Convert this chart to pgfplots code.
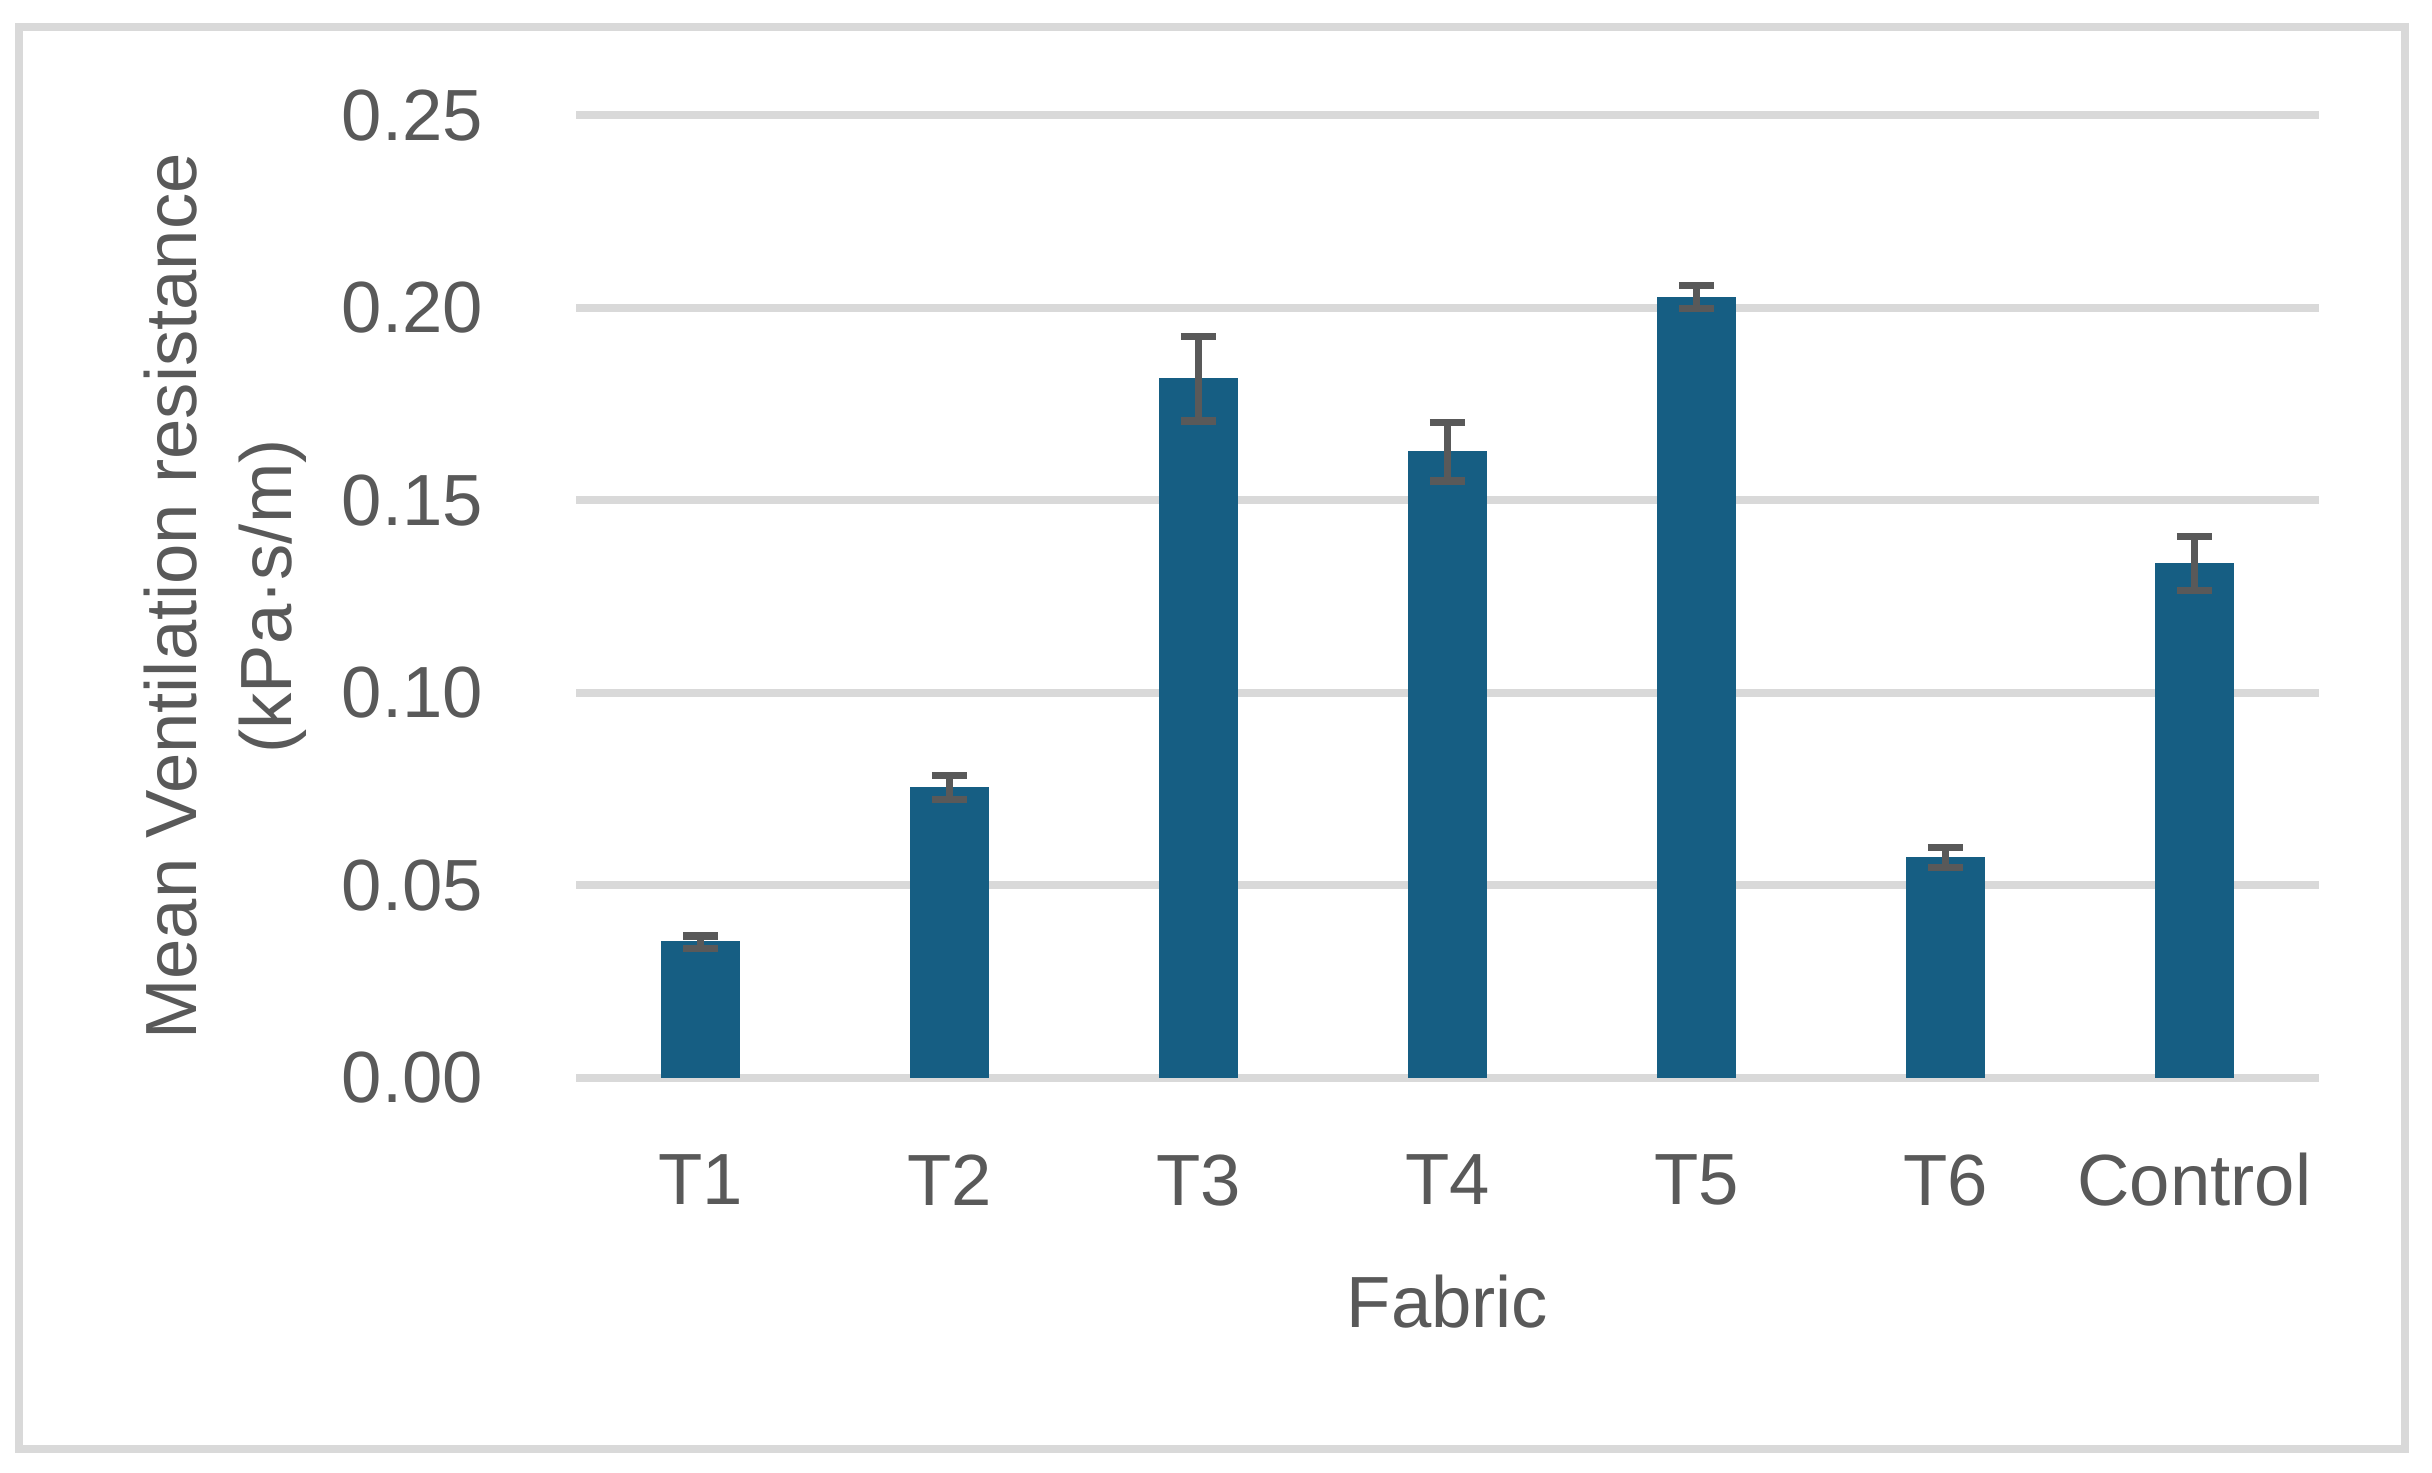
\documentclass[border=0pt]{standalone}
\usepackage{pgfplots}
\pgfplotsset{compat=1.18}
\usepackage{fontspec}
\setmainfont{Liberation Sans}
\definecolor{txtgray}{HTML}{595959}
\definecolor{gridgray}{HTML}{D9D9D9}
\definecolor{barblue}{HTML}{165E83}
\begin{document}
\begin{tikzpicture}
\fill[white] (0,0) rectangle (486.4pt,294.4pt);
\draw[gridgray, line width=1.6pt] (3.8pt,4.6pt) rectangle (481pt,289pt);
\begin{axis}[
  at={(115.2pt,78.86pt)}, anchor=south west,
  width=348.6pt, height=192.5pt, scale only axis,
  xmin=-0.5, xmax=6.5, ymin=0, ymax=0.25,
  ytick={0,0.05,0.10,0.15,0.20,0.25},
  xtick={0,1,2,3,4,5,6},
  xticklabels={T1,T2,T3,T4,T5,T6,Control},
  axis line style={draw=none},
  tick style={draw=none},
  ymajorgrids,
  major grid style={color=gridgray, line width=1.53pt},
  /pgf/number format/assume math mode=true,
  yticklabel style={/pgf/number format/.cd, fixed, fixed zerofill, precision=2, /tikz/.cd},
  ticklabel style={font=\fontsize{14.5}{17}\selectfont, text=txtgray},
  yticklabel style={anchor=east, inner sep=0pt, xshift=-18.4pt},
  xticklabel style={anchor=center, inner sep=0pt, yshift=-16.2pt},
  xlabel={Fabric},
  xlabel style={at={(axis description cs:0.5,-0.233)}, anchor=center, inner sep=0pt, font=\fontsize{14.5}{17}\selectfont, text=txtgray},
  ylabel={Mean Ventilation resistance\\(kPa·s/m)},
  ylabel style={at={(axis description cs:-0.2014,0.5)}, anchor=center, rotate=0, align=center, inner sep=0pt, font=\fontsize{14.5}{19}\selectfont, text=txtgray},
  ybar, bar width=15.4pt,
]
\addplot[fill=barblue, draw=barblue, line width=0.3pt,
  error bars/.cd, y dir=both, y explicit,
  error mark=|,
  error bar style={color=txtgray, line width=1.45pt},
  error mark options={color=txtgray, line width=1.45pt, mark size=3.5pt}]
  coordinates {
  (0,0.0352) +- (0,0.0016)
  (1,0.0753) +- (0,0.0031)
  (2,0.1816) +- (0,0.0110)
  (3,0.1626) +- (0,0.0076)
  (4,0.2027) +- (0,0.0030)
  (5,0.0572) +- (0,0.0026)
  (6,0.1335) +- (0,0.0070)
  };
\end{axis}
\end{tikzpicture}
\end{document}
